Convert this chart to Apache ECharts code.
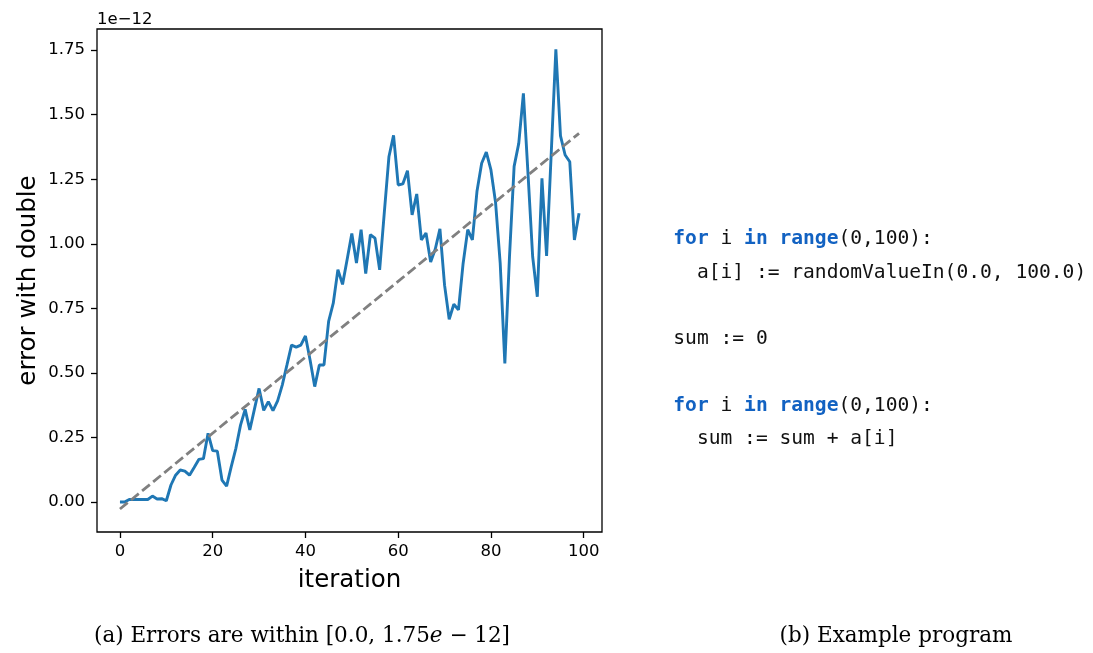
<!DOCTYPE html>
<html>
<head>
<meta charset="utf-8">
<script src="https://cdn.jsdelivr.net/npm/echarts@6/dist/echarts.min.js"></script>
<style>
  html, body { margin: 0; padding: 0; background: #fff; }
  #chart { width: 1093px; height: 653px; }
</style>
</head>
<body>
<div id="chart"></div>
<script>
// error values, in units of 1e-12, one per iteration 0..99
const errors = [
  0.00, 0.00, 0.01, 0.01, 0.01, 0.01, 0.01, 0.023, 0.012, 0.013,
  0.005, 0.066, 0.104, 0.124, 0.12, 0.104, 0.134, 0.165, 0.168, 0.266,
  0.199, 0.197, 0.085, 0.062, 0.137, 0.208, 0.298, 0.359, 0.279, 0.36,
  0.44, 0.355, 0.389, 0.354, 0.392, 0.453, 0.53, 0.608, 0.60, 0.608,
  0.643, 0.55, 0.447, 0.531, 0.531, 0.70, 0.77, 0.90, 0.843, 0.94,
  1.04, 0.926, 1.055, 0.885, 1.035, 1.022, 0.899, 1.12, 1.337, 1.42,
  1.228, 1.232, 1.283, 1.112, 1.193, 1.015, 1.042, 0.93, 0.98, 1.058,
  0.84, 0.708, 0.766, 0.744, 0.924, 1.055, 1.015, 1.205, 1.312, 1.355,
  1.286, 1.16, 0.924, 0.537, 0.95, 1.30, 1.389, 1.583, 1.27, 0.95,
  0.795, 1.254, 0.953, 1.35, 1.753, 1.418, 1.344, 1.318, 1.015, 1.118
];
const iterations = errors.map((_, i) => i);

// dashed trend line, end points
const trendX = [0, 99];
const trendY = [-0.027, 1.428];

const xTicks = [0, 20, 40, 60, 80, 100];
const yTicks = [0, 0.25, 0.5, 0.75, 1.0, 1.25, 1.5, 1.75];

const codeLines = [
  "{k|for} i {k|in} {k|range}(0,100):",
  "  a[i] := randomValueIn(0.0, 100.0)",
  "",
  "sum := 0",
  "",
  "{k|for} i {k|in} {k|range}(0,100):",
  "  sum := sum + a[i]"
];

const chart = echarts.init(document.getElementById("chart"));

const sans = "DejaVu Sans";
const mono = "DejaVu Sans Mono";
const serif = "DejaVu Serif";
const keyBlue = "#1262c2";

// code block, one text per line
const codeFont = 19.6;
const codeLeft = 673.3;
const codeTop = 239.1;
const codeStep = 33.3;
const codeGraphics = codeLines.map((line, i) => ({
  type: "text",
  left: codeLeft,
  top: codeTop + i * codeStep - codeFont / 2,
  style: {
    text: line,
    fontFamily: mono,
    fontSize: codeFont,
    fill: "#111",
    rich: {
      k: { fontFamily: mono, fontSize: codeFont, fontWeight: "bold", fill: keyBlue }
    }
  }
}));

const option = {
  animation: false,
  backgroundColor: "#fff",
  grid: {
    left: 97,
    right: 491,
    top: 29,
    bottom: 121,
    show: true,
    borderColor: "#000",
    borderWidth: 1.3,
    backgroundColor: "transparent"
  },
  xAxis: {
    type: "value",
    min: -4.95,
    max: 103.95,
    splitLine: { show: false },
    axisLine: { show: false, onZero: false },
    axisTick: {
      show: true,
      customValues: xTicks,
      length: 6,
      lineStyle: { color: "#000", width: 1.3 }
    },
    axisLabel: {
      customValues: xTicks,
      fontFamily: sans,
      fontSize: 16.5,
      color: "#000",
      margin: 11
    }
  },
  yAxis: {
    type: "value",
    min: -0.116,
    max: 1.832,
    splitLine: { show: false },
    axisLine: { show: false, onZero: false },
    axisTick: {
      show: true,
      customValues: yTicks,
      length: 6,
      lineStyle: { color: "#000", width: 1.3 }
    },
    axisLabel: {
      customValues: yTicks,
      formatter: v => v.toFixed(2),
      fontFamily: sans,
      fontSize: 16.5,
      color: "#000",
      margin: 12
    }
  },
  series: [
    {
      type: "line",
      data: iterations.map((x, i) => [x, errors[i]]),
      showSymbol: false,
      lineStyle: { color: "#1f77b4", width: 2.9 },
      z: 2
    },
    {
      type: "line",
      data: trendX.map((x, i) => [x, trendY[i]]),
      showSymbol: false,
      lineStyle: { color: "#808080", width: 2.8, type: [10, 4.3] },
      z: 3
    }
  ],
  graphic: [
    {
      type: "text",
      left: 97,
      top: 19 - 8.25,
      style: { text: "1e\u221212", fontFamily: sans, fontSize: 16.5, fill: "#000" }
    },
    {
      type: "text",
      x: 349.5,
      y: 580.6,
      style: {
        text: "iteration",
        fontFamily: sans,
        fontSize: 24.5,
        fill: "#000",
        align: "center",
        verticalAlign: "middle"
      }
    },
    {
      type: "text",
      x: 28.6,
      y: 280.5,
      rotation: Math.PI / 2,
      style: {
        text: "error with double",
        fontFamily: sans,
        fontSize: 24.5,
        fill: "#000",
        align: "center",
        verticalAlign: "middle"
      }
    },
    {
      type: "text",
      x: 302,
      y: 636.4,
      style: {
        text: "(a) Errors are within [0.0, 1.75{i|e} \u2212 12]",
        fontFamily: serif,
        fontSize: 21.5,
        fill: "#000",
        align: "center",
        verticalAlign: "middle",
        rich: {
          i: { fontFamily: serif, fontSize: 21.5, fontStyle: "italic", fill: "#000" }
        }
      }
    },
    {
      type: "text",
      x: 896,
      y: 636.4,
      style: {
        text: "(b) Example program",
        fontFamily: serif,
        fontSize: 21.5,
        fill: "#000",
        align: "center",
        verticalAlign: "middle"
      }
    }
  ].concat(codeGraphics)
};

chart.setOption(option);
</script>
</body>
</html>
